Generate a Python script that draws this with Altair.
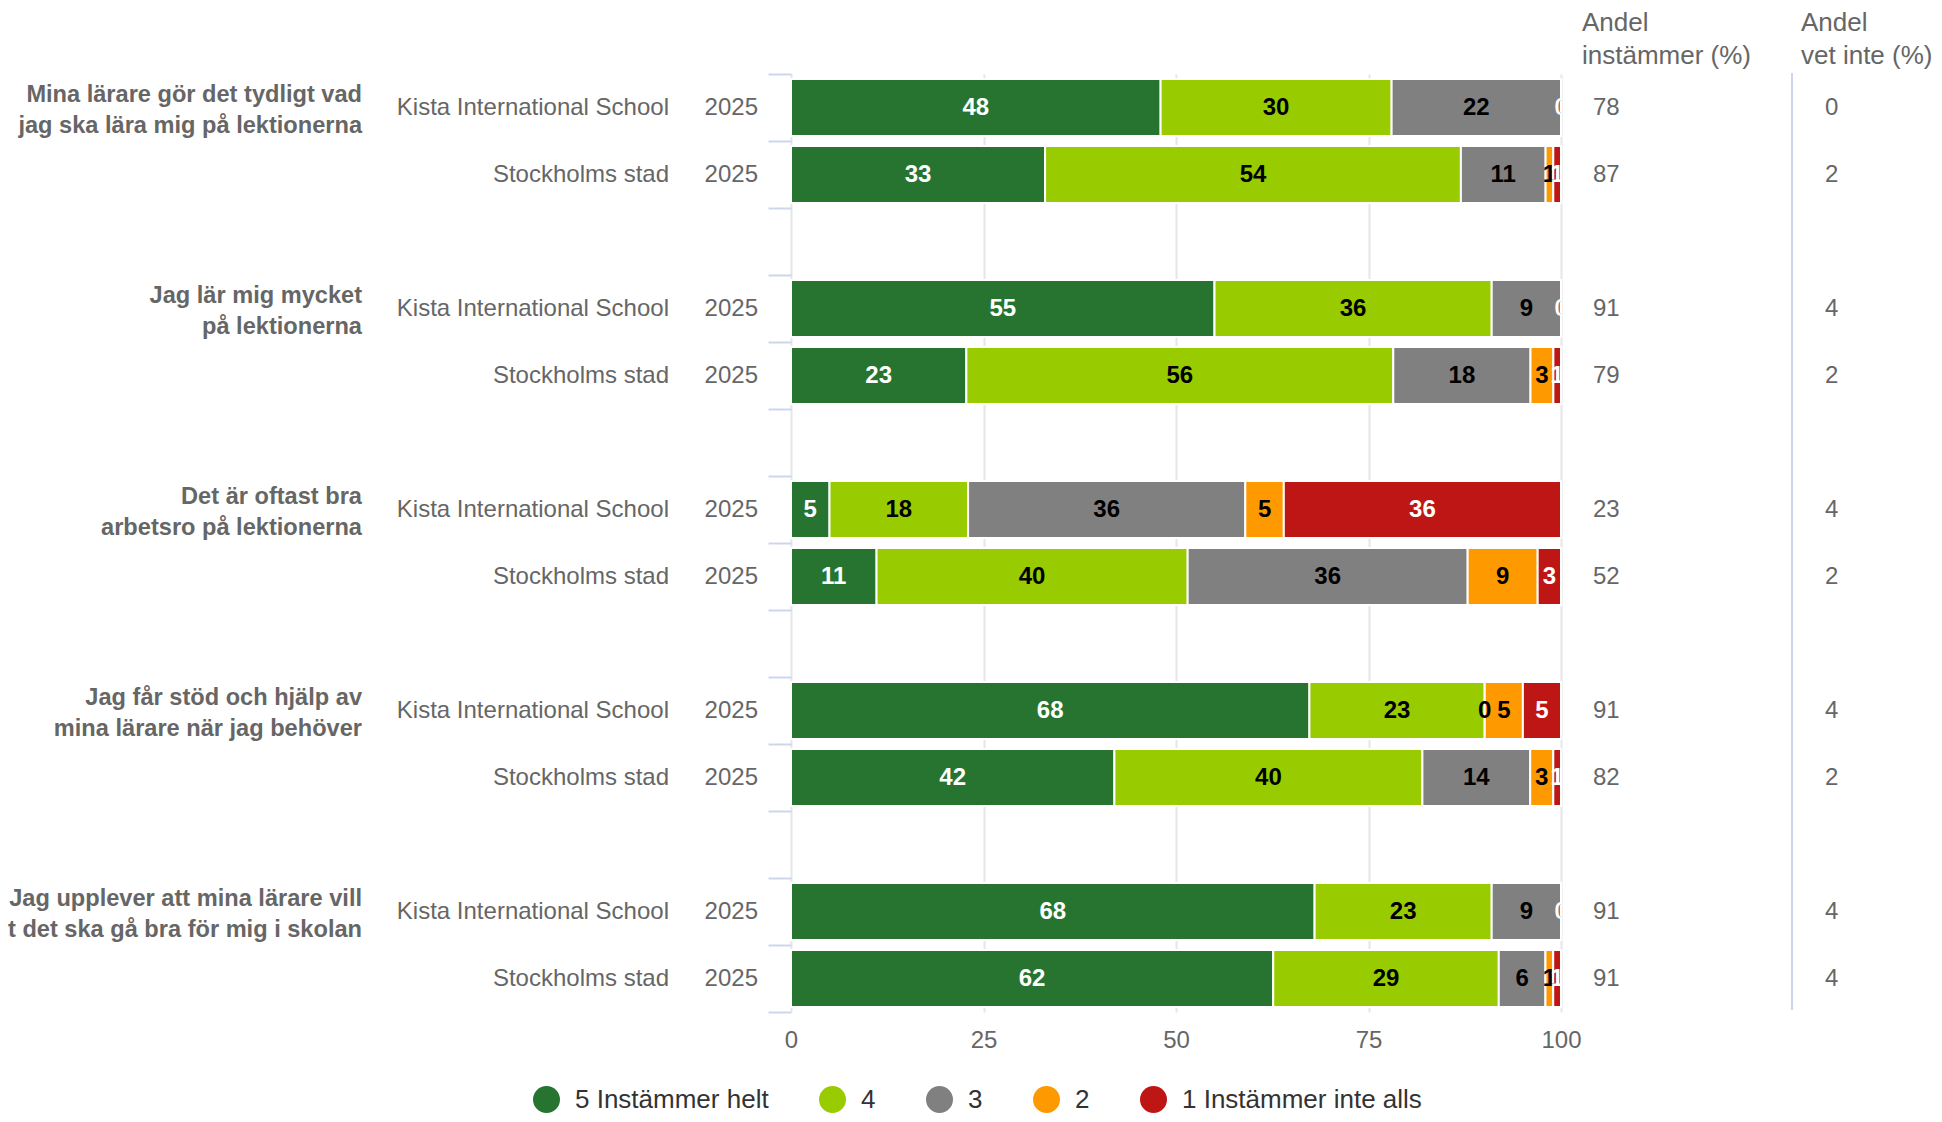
import altair as alt
import pandas as pd

# ---------------- data ----------------
questions = [
    "Mina lärare gör det tydligt vad\njag ska lära mig på lektionerna",
    "Jag lär mig mycket\npå lektionerna",
    "Det är oftast bra\narbetsro på lektionerna",
    "Jag får stöd och hjälp av\nmina lärare när jag behöver",
    "Jag upplever att mina lärare vill\natt det ska gå bra för mig i skolan",
]
units = ["Kista International School", "Stockholms stad"]
year = "2025"

categories = ["5 Instämmer helt", "4", "3", "2", "1 Instämmer inte alls"]
colors = ["#26742f", "#99cc00", "#808080", "#ff9900", "#be1515"]

# rows: Q1 Kista, Q1 Sthlm, Q2 Kista, Q2 Sthlm, ...
v5 = [48, 33, 55, 23, 5, 11, 68, 42, 68, 62]
v4 = [30, 54, 36, 56, 18, 40, 23, 40, 23, 29]
v3 = [22, 11, 9, 18, 36, 36, 0, 14, 9, 6]
v2 = [0, 1, 0, 3, 5, 9, 5, 3, 0, 1]
v1 = [0, 1, 0, 1, 36, 3, 5, 1, 0, 1]
andel_instammer = [78, 87, 91, 79, 23, 52, 91, 82, 91, 91]
andel_vet_inte = [0, 2, 4, 2, 4, 2, 4, 2, 4, 4]

header_instammer = ["Andel", "instämmer (%)"]
header_vet_inte = ["Andel", "vet inte (%)"]

# ---------------- tables ----------------
slot_order = []
for qi in range(len(questions)):
    slot_order += [f"r{2*qi}", f"r{2*qi+1}"]
    if qi < len(questions) - 1:
        slot_order.append(f"g{qi}")

series = [v5, v4, v3, v2, v1]
long_rows = []
row_rows = []
for i in range(len(v5)):
    qi, ui = divmod(i, 2)
    slot = f"r{i}"
    for ci, cat in enumerate(categories):
        long_rows.append({"slot": slot, "category": cat, "order": ci,
                          "value": series[ci][i],
                          "white": cat in (categories[0], categories[4])})
    row_rows.append({"slot": slot,
                     "question": questions[qi] if ui == 0 else "",
                     "unit": units[ui], "year": year,
                     "ins": str(andel_instammer[i]),
                     "vet": str(andel_vet_inte[i])})
long_df = pd.DataFrame(long_rows)
row_df = pd.DataFrame(row_rows)
one_df = pd.DataFrame({"k": [0]})

FONT = "Liberation Sans"
GREY = "#666666"
W, H = 770, 938

y_scale = alt.Scale(domain=slot_order, paddingInner=0, paddingOuter=0)
y_axis = alt.Axis(labels=False, domain=False, grid=False, ticks=True,
                  tickBand="extent", tickColor="#ccd6eb", tickSize=23,
                  tickWidth=2, title=None)
Y = alt.Y("slot:N", scale=y_scale, axis=y_axis, title=None)

x_scale = alt.Scale(domain=[0, 1], nice=False, zero=True)
x_axis = alt.Axis(values=[0, 0.25, 0.5, 0.75, 1],
                  labelExpr="format(datum.value*100, 'd')",
                  labelFontSize=24, labelColor=GREY, labelFont=FONT,
                  labelFlush=False, labelOverlap=False,
                  ticks=False, tickSize=0, domain=False, grid=True,
                  gridColor="#e6e6e6", gridWidth=2, labelPadding=16,
                  title=None)

stacked = alt.Chart(long_df).transform_stack(
    stack="value", groupby=["slot"], as_=["x0", "x1"], offset="normalize",
    sort=[alt.SortField("order", order="ascending")],
)

bars = stacked.mark_bar(height={"band": 0.85}, stroke="white",
                        strokeWidth=2).encode(
    x=alt.X("x0:Q", scale=x_scale, axis=x_axis, title=None),
    x2="x1:Q",
    y=Y,
    color=alt.Color(
        "category:N",
        scale=alt.Scale(domain=categories, range=colors),
        legend=alt.Legend(
            orient="none", legendX=-258, legendY=1012, direction="horizontal",
            title=None, symbolType="circle", symbolSize=729,
            symbolStrokeWidth=0, symbolOpacity=1, labelFontSize=26,
            labelFont=FONT, labelColor="#333333", columnPadding=50,
            labelOffset=15, labelLimit=400,
        ),
    ),
    order=alt.Order("order:Q"),
)

mid = stacked.transform_calculate(mid="(datum.x0 + datum.x1) / 2")

label_white = mid.transform_filter("datum.white").mark_text(
    fontSize=24, fontWeight="bold", font=FONT, color="white",
    baseline="middle", align="center", clip=True,
).encode(x=alt.X("mid:Q", scale=x_scale, axis=x_axis, title=None),
         y=Y, text="value:Q")

label_black = mid.transform_filter("!datum.white").mark_text(
    fontSize=24, fontWeight="bold", font=FONT, color="#000000",
    baseline="middle", align="center", clip=True,
).encode(x=alt.X("mid:Q", scale=x_scale, axis=x_axis, title=None),
         y=Y, text="value:Q")

rows_base = alt.Chart(row_df)

q_text = rows_base.transform_filter("datum.question != ''").mark_text(
    fontSize=23.6, fontWeight="bold", font=FONT, color=GREY, align="right",
    baseline="middle", lineBreak="\n", lineHeight=31, dy=-13,
).encode(x=alt.value(-429), y=Y, text="question:N")

unit_text = rows_base.mark_text(
    fontSize=24, font=FONT, color=GREY, align="right", baseline="middle",
).encode(x=alt.value(-122), y=Y, text="unit:N")

year_text = rows_base.mark_text(
    fontSize=24, font=FONT, color=GREY, align="right", baseline="middle",
).encode(x=alt.value(-33), y=Y, text="year:N")

ins_text = rows_base.mark_text(
    fontSize=24, font=FONT, color=GREY, align="left", baseline="middle",
).encode(x=alt.value(802), y=Y, text="ins:N")

vet_text = rows_base.mark_text(
    fontSize=24, font=FONT, color=GREY, align="left", baseline="middle",
).encode(x=alt.value(1034), y=Y, text="vet:N")

hdr1 = alt.Chart(one_df).mark_text(
    text=header_instammer, fontSize=26, font=FONT, color=GREY,
    align="left", baseline="middle", lineHeight=33,
).encode(x=alt.value(791), y=alt.value(-51))

hdr2 = alt.Chart(one_df).mark_text(
    text=header_vet_inte, fontSize=26, font=FONT, color=GREY,
    align="left", baseline="middle", lineHeight=33,
).encode(x=alt.value(1010), y=alt.value(-51))

sep = alt.Chart(one_df).mark_rule(color="#ccd6eb", strokeWidth=2).encode(
    x=alt.value(1001), y=alt.value(-1), y2=alt.value(H - 2))

chart = alt.layer(
    bars, label_black, label_white, q_text, unit_text, year_text,
    ins_text, vet_text, hdr1, hdr2, sep,
).properties(
    width=W, height=H,
    autosize=alt.AutoSizeParams(type="none"),
    padding={"left": 783, "top": 66, "right": 373, "bottom": 102},
).configure(font=FONT).configure_view(stroke=None)

chart.save("out.html", embed_options={"renderer": "svg", "actions": False})
